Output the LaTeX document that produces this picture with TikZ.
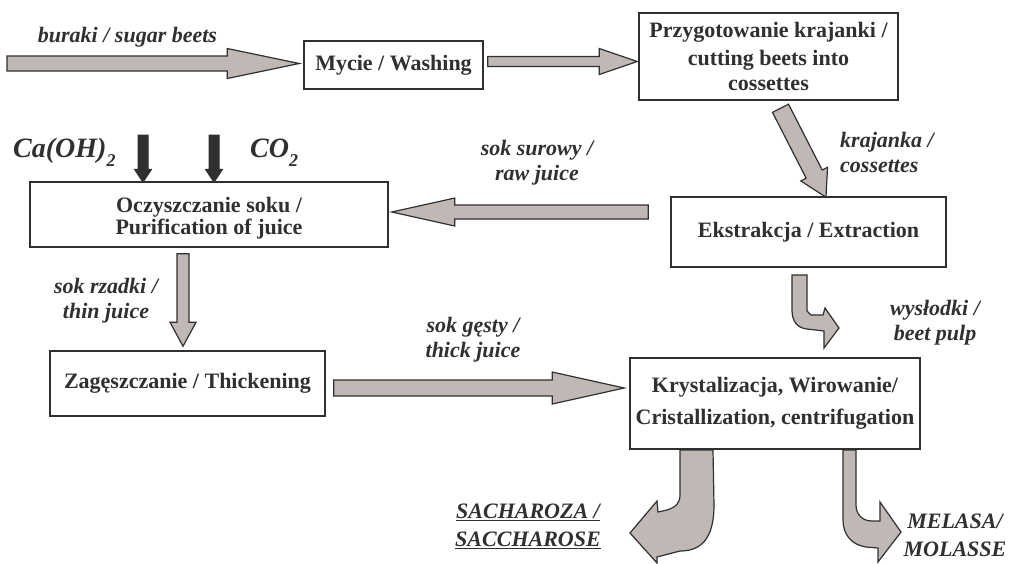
\documentclass[tikz,border=0pt]{standalone}
\usepackage{fontspec}
\setmainfont{Liberation Serif}
\usetikzlibrary{calc}
\definecolor{pulpgray}{RGB}{192,184,181}
\definecolor{inkgray}{RGB}{48,48,48}

\newcommand{\stagefont}{\fontsize{22}{25}\selectfont\bfseries}
\newcommand{\tagfont}{\fontsize{22}{25}\selectfont\bfseries\itshape}

% block arrow: [style] start, tip, half shaft, half head, head length
\newcommand{\flowarrow}[6][flow]{%
 \coordinate (fa-s) at (#2);
 \coordinate (fa-e) at (#3);
 \coordinate (fa-b) at ($(fa-e)!#6!(fa-s)$);
 \draw[#1] ($(fa-s)!#4!90:(fa-e)$) -- ($(fa-b)!#4!90:(fa-e)$) -- ($(fa-b)!#5!90:(fa-e)$) -- (fa-e)
  -- ($(fa-b)!#5!-90:(fa-e)$) -- ($(fa-b)!#4!-90:(fa-e)$) -- ($(fa-s)!#4!-90:(fa-e)$) -- cycle;
}

\tikzset{
 stage/.style={draw=inkgray, line width=1.5pt, fill=white, text=inkgray, font=\stagefont, align=center, inner sep=0pt},
 flow/.style={draw=inkgray, line width=1.2pt, fill=pulpgray, line join=miter},
 feed/.style={draw=inkgray, line width=1pt, fill=inkgray},
 tag/.style={text=inkgray, font=\tagfont, align=center, inner sep=0pt},
 chem/.style={text=inkgray, font=\fontsize{28}{30}\selectfont\bfseries\itshape, inner sep=0pt},
}

\begin{document}
\begin{tikzpicture}[x=1pt, y=-1pt]

\useasboundingbox (0,0) rectangle (1015,563);
\fill[white] (0,0) rectangle (1015,563);

%stages
\node[stage, minimum width=179pt, minimum height=48pt] (mycie) at (393.5,65) {Mycie / Washing};
\node[stage, minimum width=259pt, minimum height=87pt] (przyg) at (768.5,56.5) {Przygotowanie krajanki /\\[3pt] cutting beets into\\ cossettes};
\node[stage, minimum width=275pt, minimum height=70pt] (ekstr) at (808.5,232) {Ekstrakcja / Extraction};
\node[stage, minimum width=358pt, minimum height=65pt] (oczy) at (209,214.5) {};
\node[text=inkgray, font=\stagefont, align=center] (oczytxt) at ($(oczy)+(0,4)$) {Oczyszczanie soku /\\[-3pt] Purification of juice};
\node[stage, minimum width=275pt, minimum height=65pt] (zag) at (187.5,383.5) {Zagęszczanie / Thickening};
\node[stage, minimum width=290pt, minimum height=91pt] (kryst) at (775,403.5) {Krystalizacja, Wirowanie/\\[7pt] Cristallization, centrifugation};

%straight arrows
\coordinate (beets) at (7,63.5);
\flowarrow{beets}{$(mycie.west)+(-4,-1.5)$}{7.5pt}{15pt}{72pt}
\flowarrow{$(mycie.east)+(4,-3.5)$}{$(przyg.west)+(-1,5)$}{5pt}{13pt}{38pt}
\flowarrow{$(przyg.south)+(12,7.5)$}{$(ekstr.north)+(17.5,1)$}{9pt}{15pt}{26pt}
\flowarrow{$(ekstr.west)+(-22,-20)$}{$(oczy.east)+(3,-2.5)$}{7pt}{14pt}{63pt}
\flowarrow{$(oczy.south)+(-26,6)$}{$(zag.north)+(-4.5,-4)$}{6pt}{13pt}{24pt}
\flowarrow{$(zag.east)+(8,4.5)$}{$(kryst.west)+(-5,-15.5)$}{8pt}{16pt}{72pt}

%lime and co2 feeds
\coordinate (limein) at (143,135);
\coordinate (co2in) at (214,135);
\flowarrow[feed]{limein}{$(oczy.north)+(-66,1)$}{5pt}{8.5pt}{13pt}
\flowarrow[feed]{co2in}{$(oczy.north)+(5,1)$}{5pt}{8.5pt}{13pt}
\node[chem, anchor=base west] (lime) at (13,157) {Ca(OH)\raisebox{-9pt}{\fontsize{18}{18}\selectfont 2}};
\node[chem, anchor=base west] (co2) at (250,157) {CO\raisebox{-9pt}{\fontsize{18}{18}\selectfont 2}};

%bent arrows
\draw[flow] (792,275) -- (807,275) -- (807,311) -- (811,315) -- (823,315) -- (825,308) -- (839,328) -- (824,348)
 -- (824,331) -- (807,329) .. controls (797,328) and (792,321) .. (792,310) -- cycle;
\draw[flow] (680,450) -- (713,450) -- (714,505) .. controls (714,540) and (700,551) .. (680,551) -- (657,557)
 -- (657,563) -- (630,533) -- (657,501) -- (658,512) -- (667,510) .. controls (676,507) and (680,503) .. (680,495) -- cycle;
\draw[flow] (843,450) -- (856,450) -- (856,505) .. controls (856,514) and (862,521) .. (872,521) -- (880,521)
 -- (880,502) -- (901,532) -- (878,562) -- (878,548) -- (866,547) .. controls (852,545) and (843,535) .. (843,520) -- cycle;

%labels
\node[tag] (beetslbl) at (127.5,37) {buraki / sugar beets};
\node[tag] (rawlbl) at (537,162.5) {sok surowy /\\ raw juice};
\node[tag, anchor=west, align=left] (cosslbl) at (840,152.5) {krajanka /\\ cossettes};
\node[tag] (thinlbl) at (106,300.5) {sok rzadki /\\ thin juice};
\node[tag] (thicklbl) at (473,339.5) {sok gęsty /\\ thick juice};
\node[tag] (pulplbl) at (935,322.5) {wysłodki /\\ beet pulp};
\node[tag] (sugarlbl) at (528,526) {\underline{SACHAROZA /}\\[3pt] \underline{SACCHAROSE}};
\node[tag] (molaslbl) at (955,535) {MELASA/\\[3pt] MOLASSE};

\end{tikzpicture}
\end{document}
